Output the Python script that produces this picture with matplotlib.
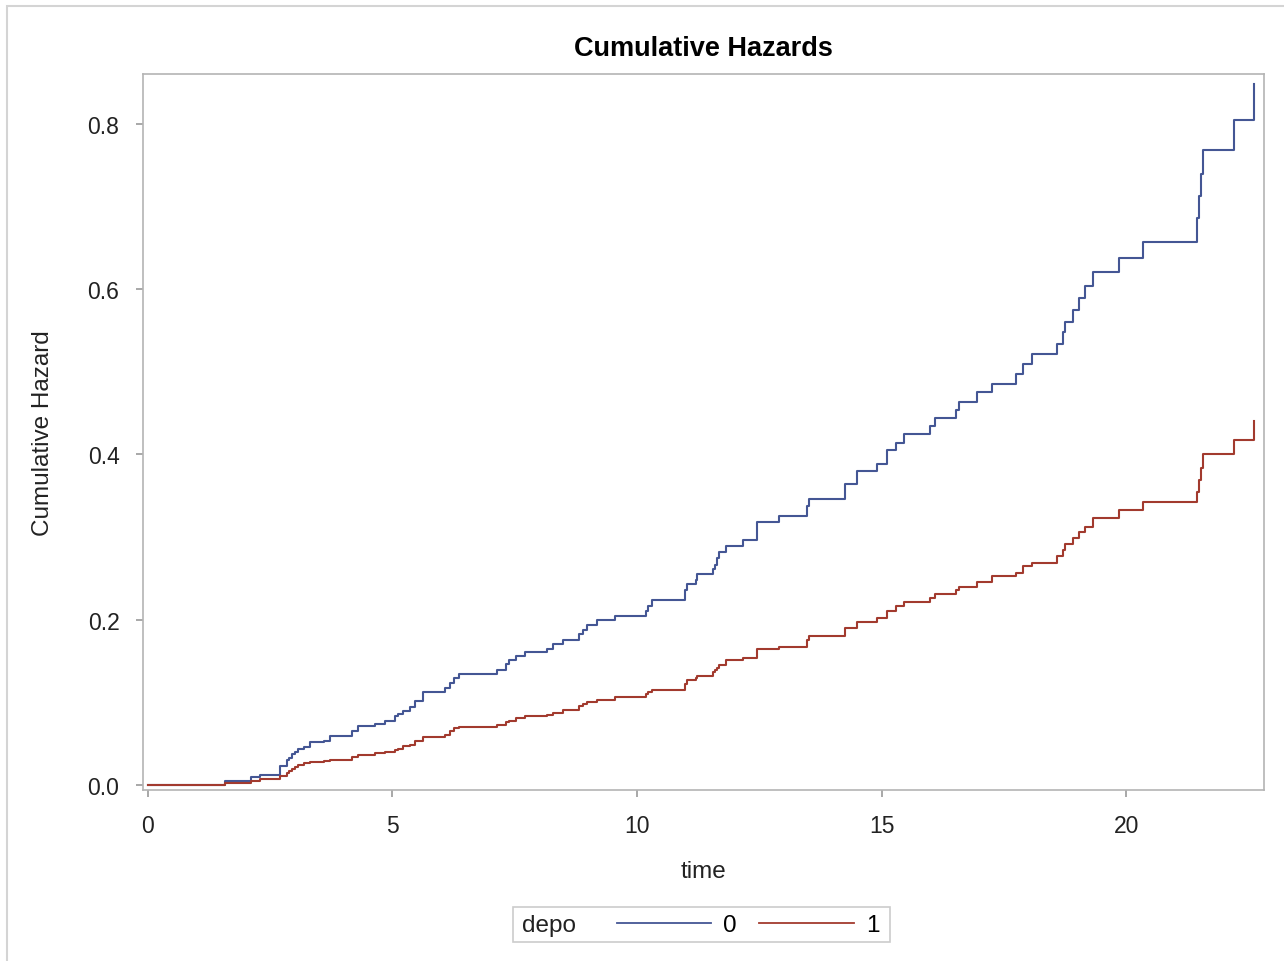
import numpy as np
import matplotlib
matplotlib.use('Agg')
import matplotlib.pyplot as plt
from matplotlib.patches import Rectangle
from matplotlib.lines import Line2D

plt.rcParams['font.family'] = ['Liberation Sans', 'DejaVu Sans']

# event times shared by both groups
times = [0, 1.58, 2.1, 2.3, 2.7, 2.84, 2.89, 2.95, 3.0, 3.06, 3.2, 3.32, 3.6, 3.73,
         4.18, 4.3, 4.64, 4.85, 5.05, 5.12, 5.22, 5.35, 5.46, 5.62, 6.07, 6.17, 6.25,
         6.37, 7.14, 7.33, 7.39, 7.52, 7.71, 8.17, 8.29, 8.49, 8.82, 8.9, 8.98, 9.19,
         9.56, 10.18, 10.22, 10.3, 10.98, 11.03, 11.2, 11.23, 11.56, 11.6, 11.64,
         11.68, 11.81, 12.17, 12.46, 12.91, 13.47, 13.52, 14.25, 14.5, 14.91, 15.12,
         15.29, 15.45, 15.99, 16.1, 16.52, 16.59, 16.96, 17.25, 17.74, 17.9, 18.07,
         18.59, 18.72, 18.76, 18.92, 19.04, 19.17, 19.33, 19.86, 20.35, 21.45, 21.49,
         21.53, 21.58, 22.2, 22.62]

# depo = 0
haz0 = [0, 0.005, 0.0097, 0.012, 0.0226, 0.030, 0.033, 0.037, 0.040, 0.0435, 0.046,
        0.0516, 0.053, 0.059, 0.0656, 0.0717, 0.0738, 0.0778, 0.083, 0.086, 0.090,
        0.094, 0.1018, 0.112, 0.117, 0.124, 0.130, 0.134, 0.139, 0.146, 0.151, 0.1556,
        0.161, 0.165, 0.1705, 0.175, 0.183, 0.188, 0.193, 0.1995, 0.204, 0.2107,
        0.2167, 0.2237, 0.236, 0.243, 0.248, 0.255, 0.261, 0.266, 0.274, 0.2815,
        0.2886, 0.296, 0.318, 0.325, 0.337, 0.3465, 0.3637, 0.38, 0.388, 0.405, 0.414,
        0.424, 0.4343, 0.4437, 0.4534, 0.4627, 0.4748, 0.4849, 0.497, 0.509, 0.5211,
        0.533, 0.5477, 0.560, 0.575, 0.5887, 0.603, 0.6205, 0.637, 0.6568, 0.6856,
        0.7129, 0.739, 0.768, 0.8045, 0.8476]

# depo = 1
haz1 = [0, 0.0024, 0.005, 0.007, 0.011, 0.015, 0.017, 0.020, 0.022, 0.024, 0.0266,
        0.028, 0.029, 0.030, 0.034, 0.0363, 0.039, 0.040, 0.042, 0.044, 0.0467, 0.049,
        0.0534, 0.058, 0.061, 0.065, 0.069, 0.070, 0.0726, 0.076, 0.078, 0.081, 0.0834,
        0.0853, 0.0877, 0.091, 0.095, 0.098, 0.100, 0.1025, 0.107, 0.1098, 0.112,
        0.115, 0.122, 0.127, 0.129, 0.1315, 0.1363, 0.139, 0.142, 0.1455, 0.151,
        0.1532, 0.165, 0.167, 0.175, 0.1798, 0.1895, 0.1975, 0.2016, 0.2108, 0.216,
        0.221, 0.226, 0.2308, 0.236, 0.240, 0.245, 0.253, 0.257, 0.2645, 0.269, 0.277,
        0.284, 0.2914, 0.2986, 0.3055, 0.3123, 0.3228, 0.3325, 0.3426, 0.3547, 0.3688,
        0.383, 0.400, 0.417, 0.440]

groups = ['0', '1']
colors = ['#445694', '#A23A2E']

fig = plt.figure(figsize=(12.84, 9.62), dpi=100)
ax = fig.add_axes([143 / 1284, 1 - 791 / 962, (1264 - 143) / 1284, (791 - 75) / 962])

for haz, c in zip([haz0, haz1], colors):
    ax.step(times, haz, where='post', color=c, lw=1.5)

ax.set_xlim(-0.1, 22.82)
ax.set_ylim(-0.006, 0.86)
ax.set_xticks([0, 5, 10, 15, 20])
ax.set_yticks([0.0, 0.2, 0.4, 0.6, 0.8])
ax.yaxis.set_major_formatter(matplotlib.ticker.FormatStrFormatter('%.1f'))
for s in ax.spines.values():
    s.set_color('#b4b4b4')
    s.set_linewidth(1.2)
ax.tick_params(colors='#999999', labelcolor='#222222', length=5, width=1.2,
               labelsize=16.5, pad=12)

ax.set_title('Cumulative Hazards', fontsize=19.5, fontweight='bold', pad=14)
ax.set_xlabel('time', fontsize=17.5, color='#222222', labelpad=17)
ax.set_ylabel('Cumulative Hazard', fontsize=17.5, color='#222222', labelpad=24)

# outer frame
fig.patches.append(Rectangle((7 / 1284, -0.1), 1.1, 1.1 - 7 / 962,
                             transform=fig.transFigure, fill=False,
                             edgecolor='#d4d4d4', lw=1.5))

# legend box
fig.patches.append(Rectangle((513 / 1284, 1 - 943 / 962), (890 - 513) / 1284, 35 / 962,
                             transform=fig.transFigure, fill=False,
                             edgecolor='#cccccc', lw=1.2))
fig.text(522 / 1284, 1 - 926 / 962, 'depo', fontsize=17.5, color='#222222', va='center')
handles = [Line2D([], [], color=c, lw=1.3) for c in colors]
fig.legend(handles, groups, ncol=2, frameon=False, fontsize=17.5,
           loc='center', bbox_to_anchor=(748 / 1284, 1 - 926 / 962),
           handlelength=3.9, handletextpad=0.5, columnspacing=0.9)

fig.savefig('out.png', dpi=100)
